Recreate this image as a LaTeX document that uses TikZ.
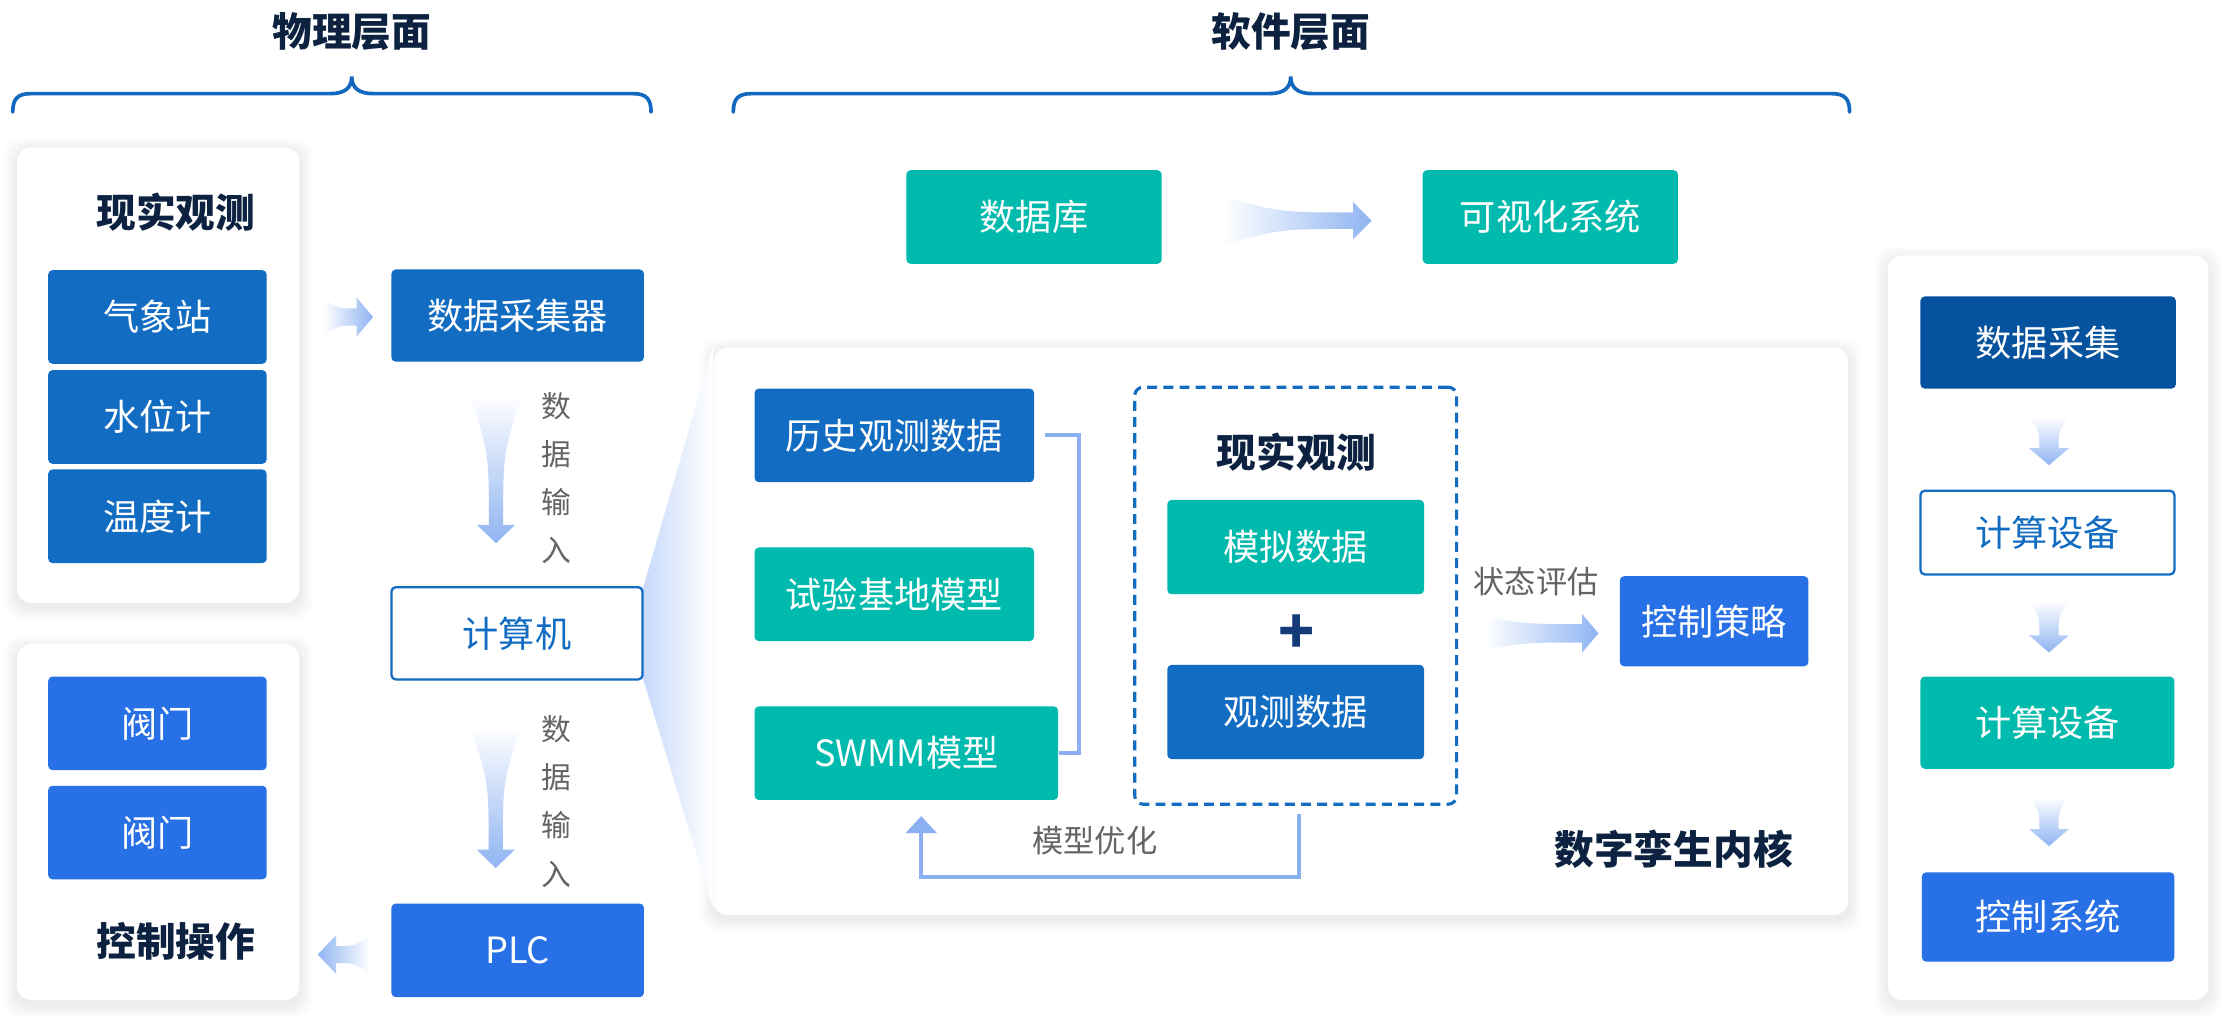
\documentclass[tikz,border=0pt]{standalone}
\usepackage{fontspec}
\setmainfont{Noto Sans CJK SC}
\usetikzlibrary{arrows.meta,calc}
\definecolor{bxblue}{RGB}{17,108,194}
\definecolor{brblue}{RGB}{40,112,230}
\definecolor{teal1}{RGB}{0,186,173}
\definecolor{dkblue}{RGB}{5,82,158}
\definecolor{navy}{RGB}{12,34,64}
\definecolor{plusc}{RGB}{20,58,120}
\definecolor{linec}{RGB}{138,176,242}
\definecolor{arrc}{RGB}{143,180,242}
\definecolor{fanc}{RGB}{200,218,252}
\definecolor{grayt}{RGB}{100,100,100}
\definecolor{bracec}{RGB}{17,104,190}
\pgfdeclarelayer{back}
\pgfdeclarelayer{bg}
\pgfsetlayers{back,bg,main}
% horizontal gradient arrow: [shade]{xtail}{xneck}{xtip}{yc}{tailhalf}{neckhalf}{headhalf}
\newcommand{\HArr}[8][left color=white,right color=arrc]{%
  \path[#1] ({#2},{#5-#6}) .. controls ({#2+0.45*(#3-#2)},{#5-#7}) .. ({#3},{#5-#7})
    -- ({#3},{#5-#8}) -- ({#4},{#5}) -- ({#3},{#5+#8}) -- ({#3},{#5+#7})
    .. controls ({#2+0.45*(#3-#2)},{#5+#7}) .. ({#2},{#5+#6}) -- cycle;}
% vertical gradient arrow: [shade]{ytail}{yneck}{ytip}{xc}{tailhalf}{neckhalf}{headhalf}
\newcommand{\VArr}[8][top color=white,bottom color=arrc]{%
  \path[#1] ({#5-#6},{#2}) .. controls ({#5-#7},{#2+0.45*(#3-#2)}) .. ({#5-#7},{#3})
    -- ({#5-#8},{#3}) -- ({#5},{#4}) -- ({#5+#8},{#3}) -- ({#5+#7},{#3})
    .. controls ({#5+#7},{#2+0.45*(#3-#2)}) .. ({#5+#6},{#2}) -- cycle;}
\begin{document}
\begin{tikzpicture}[x=0.5pt,y=-0.5pt,
 bx/.style={rectangle, rounded corners=1.5pt, inner sep=0pt, text=white, font=\fontsize{12.75}{14}\selectfont},
 fblue/.style={bx, fill=bxblue},
 fbright/.style={bx, fill=brblue},
 fteal/.style={bx, fill=teal1},
 fdark/.style={bx, fill=dkblue},
 outl/.style={bx, fill=white, draw=bxblue, line width=0.8pt, text=bxblue},
 ttl/.style={font=\fontsize{14}{16}\selectfont\bfseries, text=navy, inner sep=0pt},
 lbl/.style={font=\fontsize{11}{13}\selectfont, text=grayt, inner sep=0pt},
 vlbl/.style={font=\fontsize{10.5}{17}\selectfont, text=grayt, inner sep=0pt, align=center},
 panel/.style={fill=white, rounded corners=5pt, inner sep=0pt},
 shad/.style={fill=black, opacity=0.009, rounded corners=6pt},
 conn/.style={linec, line width=1.4pt},
 brace/.style={bracec, line width=1.3pt, line cap=round},
 dashbox/.style={draw=bxblue, line width=1.1pt, dash pattern=on 3.5pt off 2.2pt, rounded corners=3pt, inner sep=0pt}
]
\useasboundingbox (0,0) rectangle (1568,721);
\begin{pgfonlayer}{back}
\fill[white] (0,0) rectangle (1568,721);
\end{pgfonlayer}

% titles and braces
\node[ttl] (tphy) at (248,22.5) {物理层面};
\node[ttl] (tsw) at (910,22.5) {软件层面};
\draw[brace] (9,79) .. controls (9,70) and (12,66) .. (22,66) -- (233,66)
  .. controls (243,66) and (248,62) .. (248,54) .. controls (248,62) and (253,66) .. (263,66)
  -- (446,66) .. controls (456,66) and (459,70) .. (459,79);
\draw[brace] (517,79) .. controls (517,70) and (520,66) .. (530,66) -- (895,66)
  .. controls (905,66) and (910,62) .. (910,54) .. controls (910,62) and (915,66) .. (925,66)
  -- (1291,66) .. controls (1301,66) and (1304,70) .. (1304,79);

% panels
\node[panel, minimum width=99.5pt, minimum height=160.5pt] (pobs) at (111.5,264.5) {};
\node[panel, minimum width=99.5pt, minimum height=125.5pt] (pctl) at (111.5,579.5) {};
\node[panel, minimum width=400pt, minimum height=200pt] (core) at (903,445) {};
\node[panel, minimum width=113pt, minimum height=262.5pt] (pright) at (1444,442.5) {};
% soft shadows of the panels
\begin{pgfonlayer}{bg}
\foreach \p in {pobs,pctl,core,pright}{
  \foreach \i in {1,...,9}{
    \fill[shad] ($(\p.north west)+(-\i,-\i+3)$) rectangle ($(\p.south east)+(\i,\i+3)$);
  }
}
\end{pgfonlayer}

% left panels
\node[ttl] (tobs) at (124,149.5) {现实观测};
\node[fblue, minimum width=77pt, minimum height=33pt] (qxz) at (111,223.5) {气象站};
\node[fblue, minimum width=77pt, minimum height=33pt] (swj) at (111,294) {水位计};
\node[fblue, minimum width=77pt, minimum height=33pt] (wdj) at (111,364) {温度计};
\node[fbright, minimum width=77pt, minimum height=33pt] (fm1) at (111,510) {阀门};
\node[fbright, minimum width=77pt, minimum height=33pt] (fm2) at (111,587) {阀门};
\node[ttl] (tctl) at (124,664) {控制操作};

% middle column
\node[fblue, minimum width=89pt, minimum height=32.5pt] (cjq) at (365,222.5) {数据采集器};
\node[outl, minimum width=88.5pt, minimum height=32.5pt] (jsj) at (364.5,446.5) {计算机};
\node[fbright, minimum width=89pt, minimum height=33pt] (plc) at (365,670) {PLC};
\node[vlbl] (in1) at (392.5,337) {数\\据\\输\\入};
\node[vlbl] (in2) at (392.5,565) {数\\据\\输\\入};

% fan from computer to core
\begin{pgfonlayer}{bg}
\path[left color=fanc, right color=white] (jsj.north east) -- (core.north west) -- ($(core.south west)+(0,-5)$) -- (jsj.south east) -- cycle;
\end{pgfonlayer}

% top row
\node[fteal, minimum width=90pt, minimum height=33pt] (db) at (729,153) {数据库};
\node[fteal, minimum width=90pt, minimum height=33pt] (vis) at (1093,153) {可视化系统};

% core contents
\node[fblue, minimum width=98.5pt, minimum height=33pt] (hist) at (630.5,307) {历史观测数据};
\node[fteal, minimum width=98.5pt, minimum height=33pt] (test) at (630.5,419) {试验基地模型};
\node[fteal, minimum width=107pt, minimum height=33pt] (swmm) at (639,531) {SWMM模型};
\node[dashbox, minimum width=113.5pt, minimum height=147pt] (real) at (913.5,420) {};
\node[ttl] (treal) at (914,318.5) {现实观测};
\node[fteal, minimum width=90.5pt, minimum height=33.25pt] (sim) at (913.5,385.7) {模拟数据};
\node[text=plusc, font=\fontsize{21}{21}\selectfont\bfseries, inner sep=0pt] (plus) at (914,447) {+};
\node[fblue, minimum width=90.5pt, minimum height=33.25pt] (obs) at (913.5,502) {观测数据};
\node[fbright, minimum width=66.5pt, minimum height=31.75pt] (ctrl) at (1208.5,438) {控制策略};
\node[lbl] (ztpg) at (1083,410) {状态评估};
\node[lbl] (mxyh) at (772,593) {模型优化};
\node[ttl] (tcore) at (1180,599) {数字孪生内核};

% right panel
\node[fdark, minimum width=90pt, minimum height=32.5pt] (r1) at (1444,241.5) {数据采集};
\node[outl, minimum width=89.5pt, minimum height=29.5pt] (r2) at (1443.5,375.5) {计算设备};
\node[fteal, minimum width=89.5pt, minimum height=32.5pt] (r3) at (1443.5,509.5) {计算设备};
\node[fbright, minimum width=89pt, minimum height=31.5pt] (r4) at (1444,646.5) {控制系统};

% connectors
\draw[conn] ($(hist.east)+(7,0)$) -- ($(hist.east)+(31.5,0)$) |- (swmm.east);
\draw[conn, -{Triangle[width=10.8pt,length=6pt]}] ($(real.south)+(2.5,6)$) -- ++(0,44) -| ($(swmm.south)+(10.5,11)$);

% gradient arrows
\HArr{228}{251.5}{263}{223.5}{13}{6}{13.7}
\HArr[left color=arrc,right color=white]{261}{237}{224}{673}{14}{6}{13.7}
\VArr{279}{370}{383}{349.7}{18}{5}{13.5}
\VArr{512}{599}{612}{349.5}{18}{5}{13.5}
\HArr{862}{954}{967}{155.6}{17}{5.8}{13.1}
\HArr{1047}{1115.5}{1127}{446.5}{11.5}{6.5}{13.5}
\VArr{294}{316}{328}{1444.6}{14}{6.7}{14}
\VArr{424}{448}{460}{1444.6}{14}{6.7}{14}
\VArr{562}{584.5}{596.5}{1444.6}{14}{6.7}{14}
\end{tikzpicture}
\end{document}
